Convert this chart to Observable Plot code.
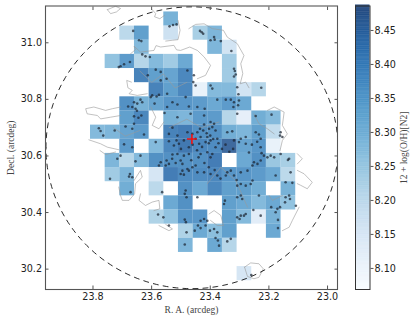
<!DOCTYPE html>
<html><head><meta charset="utf-8">
<script src="https://cdn.jsdelivr.net/npm/d3@7"></script>
<script src="https://cdn.jsdelivr.net/npm/@observablehq/plot@0.6"></script>
<style>
html,body{margin:0;padding:0;background:#fff;width:415px;height:322px;overflow:hidden}
#wrap{display:flex;width:415px;height:322px}
svg{display:block;background:transparent}
</style></head><body><div id="wrap"></div>
<script>
const raDomain=[23.962,22.966], decDomain=[30.128,31.13];
const colorDomain=[8.069,8.486];
const xTicks=[23.8,23.6,23.4,23.2,23.0], yTicks=[30.2,30.4,30.6,30.8,31.0];
const colorTicks=[8.10,8.15,8.20,8.25,8.30,8.35,8.40,8.45];
const gridRA0=23.8085, gridDec0=31.109, gridStep=0.05;
const center=[23.4625,30.66], fieldCenter=[23.4625,30.629], fieldRadius=0.498;
const metallicity=[
[0,0,0,0,0,8.31,0,0,0,0,0,0,0,0],
[0,0,8.21,8.35,0,8.18,0,8.24,8.30,0,0,0,0,0],
[0,0,0,8.29,0,0,0,0,8.30,8.17,0,0,0,0],
[0,8.27,8.36,8.22,8.29,8.25,8.33,0,0,8.25,0,0,0,0],
[0,0,0,8.41,8.35,8.34,8.40,0,0,8.25,0,0,0,0],
[0,0,0,0,8.41,8.35,8.40,8.11,8.29,8.29,8.17,8.22,0,0],
[0,0,8.38,8.31,8.34,8.37,8.37,8.36,8.33,8.36,8.33,0,0,0],
[0,0,8.35,8.40,0,8.31,8.30,8.36,8.36,8.22,8.12,8.32,8.29,0],
[8.29,8.30,8.34,8.36,0,8.41,8.42,8.38,8.38,8.32,8.30,8.35,8.20,0],
[0,0,8.36,0,8.29,8.40,8.43,8.40,8.39,8.46,8.34,8.37,8.11,0],
[0,8.30,8.22,8.29,8.38,8.38,8.38,8.38,8.42,0,8.33,8.38,8.26,8.24],
[0,8.25,8.30,0,8.16,8.42,8.39,8.39,8.40,8.37,8.37,8.36,8.33,8.21],
[0,0,8.32,0,8.21,0,8.38,8.33,8.40,8.35,8.35,8.32,0,8.31],
[0,0,0,0,0,8.33,8.38,0,0,8.35,8.33,8.29,8.33,8.27],
[0,0,0,0,8.23,8.27,8.37,8.37,0,8.35,8.29,8.13,8.31,0],
[0,0,0,0,0,0,8.23,8.33,8.28,8.35,0,0,8.33,0],
[0,0,0,0,0,0,8.30,0,8.33,8.22,0,0,0,0],
[0,0,0,0,0,0,0,0,0,0,0,0,0,0],
[0,0,0,0,0,0,0,0,0,0,8.16,0,0,0]
];
const regions=[
[23.539,31.058],[23.527,31.063],[23.515,31.065],[23.663,31.042],[23.643,31.009],[23.635,31.006],[23.435,31.042],[23.429,31.037],[23.424,31.032],[23.387,31.020],[23.399,31.009],[23.385,31.011],[23.364,31.006],[23.328,30.971],[23.632,30.959],[23.621,30.952],[23.606,30.950],[23.674,30.932],[23.694,30.924],[23.706,30.917],[23.712,30.914],[23.586,30.905],[23.569,30.897],[23.549,30.873],[23.613,30.885],[23.569,30.867],[23.478,30.902],[23.456,30.885],[23.458,30.861],[23.319,30.908],[23.316,30.900],[23.313,30.888],[23.319,30.881],[23.308,30.843],[23.304,30.818],[23.302,30.796],[23.399,30.849],[23.393,30.838],[23.450,30.849],[23.226,30.841],[23.598,30.814],[23.583,30.810],[23.603,30.808],[23.575,30.816],[23.547,30.820],[23.484,30.808],[23.660,30.790],[23.649,30.785],[23.632,30.790],[23.638,30.799],[23.666,30.773],[23.655,30.767],[23.590,30.785],[23.547,30.773],[23.529,30.790],[23.512,30.782],[23.473,30.775],[23.444,30.773],[23.419,30.767],[23.376,30.799],[23.347,30.799],[23.330,30.799],[23.319,30.790],[23.321,30.773],[23.305,30.779],[23.556,30.752],[23.660,30.740],[23.635,30.743],[23.689,30.704],[23.660,30.714],[23.512,30.737],[23.467,30.749],[23.421,30.743],[23.399,30.720],[23.387,30.714],[23.245,30.741],[23.191,30.746],[23.308,30.749],[23.780,30.698],[23.774,30.688],[23.765,30.672],[23.726,30.690],[23.666,30.696],[23.626,30.676],[23.529,30.700],[23.541,30.678],[23.512,30.672],[23.478,30.684],[23.461,30.678],[23.435,30.696],[23.421,30.711],[23.444,30.684],[23.404,30.696],[23.393,30.702],[23.382,30.690],[23.410,30.667],[23.433,30.667],[23.450,30.661],[23.376,30.661],[23.342,30.684],[23.325,30.687],[23.296,30.661],[23.279,30.667],[23.245,30.684],[23.234,30.676],[23.228,30.661],[23.160,30.684],[23.162,30.672],[23.154,30.667],[23.694,30.641],[23.666,30.631],[23.541,30.652],[23.524,30.637],[23.507,30.643],[23.490,30.655],[23.473,30.631],[23.438,30.643],[23.416,30.649],[23.399,30.655],[23.382,30.631],[23.319,30.655],[23.302,30.649],[23.279,30.643],[23.228,30.631],[23.586,30.649],
[23.706,30.601],[23.638,30.601],[23.717,30.590],[23.655,30.581],[23.569,30.578],[23.549,30.584],[23.541,30.572],[23.575,30.566],[23.552,30.566],[23.529,30.605],[23.512,30.607],[23.490,30.601],[23.501,30.584],[23.495,30.572],[23.473,30.607],[23.450,30.566],[23.461,30.560],[23.478,30.554],[23.495,30.548],[23.433,30.607],[23.410,30.613],[23.393,30.607],[23.399,30.595],[23.251,30.578],[23.239,30.572],[23.256,30.566],[23.228,30.584],[23.217,30.601],[23.194,30.601],[23.182,30.595],[23.160,30.607],[23.131,30.590],[23.135,30.586],[23.674,30.536],[23.677,30.527],[23.666,30.525],[23.742,30.519],[23.501,30.536],[23.490,30.534],[23.473,30.548],[23.444,30.542],[23.421,30.542],[23.399,30.536],[23.376,30.531],[23.342,30.542],[23.330,30.548],[23.347,30.531],[23.296,30.542],[23.319,30.531],[23.273,30.548],[23.256,30.513],[23.296,30.501],[23.308,30.495],[23.279,30.495],[23.262,30.501],[23.177,30.531],[23.126,30.542],[23.143,30.507],[23.120,30.505],[23.672,30.472],[23.564,30.472],[23.484,30.478],[23.487,30.466],[23.481,30.454],[23.444,30.454],[23.296,30.460],[23.308,30.454],[23.291,30.448],[23.350,30.442],[23.353,30.430],[23.234,30.460],[23.131,30.460],[23.143,30.454],[23.128,30.448],[23.145,30.436],[23.108,30.424],[23.192,30.419],[23.171,30.413],[23.162,30.419],[23.177,30.401],[23.253,30.409],[23.578,30.393],[23.560,30.383],[23.487,30.375],[23.483,30.366],[23.433,30.371],[23.421,30.377],[23.410,30.371],[23.442,30.354],[23.433,30.345],[23.416,30.354],[23.308,30.383],[23.296,30.389],[23.285,30.389],[23.279,30.395],[23.300,30.377],[23.228,30.389],[23.169,30.374],[23.541,30.354],[23.481,30.330],[23.453,30.336],[23.401,30.336],[23.387,30.342],[23.376,30.330],[23.169,30.345],[23.382,30.310],[23.374,30.301],[23.370,30.283],[23.330,30.307],[23.342,30.298],[23.487,30.287],[23.260,30.179],
[23.424,30.690],[23.412,30.680],[23.400,30.672],[23.390,30.660],[23.405,30.645],[23.428,30.632],[23.445,30.620],[23.460,30.640],[23.500,30.625],[23.515,30.655],[23.372,30.645],[23.360,30.625],[23.348,30.640],[23.335,30.615],[23.322,30.625],[23.268,30.612],[23.258,30.640],[23.240,30.650],[23.225,30.610],[23.205,30.595],[23.530,30.590],[23.518,30.575],[23.465,30.585],[23.440,30.595],[23.420,30.575],[23.405,30.560],[23.385,30.550],[23.365,30.520],[23.310,30.515],[23.645,30.735],[23.650,30.760],[23.680,30.775]
];
const contours=[
[[23.751,31.117],[23.740,31.103],[23.720,31.109],[23.706,31.121],[23.723,31.129],[23.751,31.117]],
[[23.598,31.117],[23.586,31.103],[23.590,31.092],[23.572,31.085],[23.556,31.097]],
[[23.510,31.079],[23.503,31.044],[23.510,31.011],[23.529,31.009],[23.552,31.006]],
[[23.473,31.050],[23.450,31.065],[23.421,31.067],[23.393,31.050],[23.355,31.044],[23.342,31.020],[23.308,30.997],[23.285,30.955],[23.296,30.926],[23.289,30.891],[23.298,30.855],[23.279,30.861],[23.268,30.841]],
[[23.672,30.961],[23.655,30.976],[23.660,30.988],[23.638,30.967],[23.592,30.973],[23.585,30.990],[23.569,30.985],[23.524,30.991],[23.515,30.975],[23.501,30.973],[23.470,30.985],[23.444,30.973],[23.421,30.950],[23.399,30.920],[23.416,30.885],[23.444,30.873]],
[[23.669,30.861],[23.685,30.867],[23.681,30.841],[23.666,30.832],[23.677,30.820],[23.649,30.814],[23.615,30.820]],
[[23.706,30.773],[23.734,30.767],[23.757,30.761],[23.797,30.773],[23.825,30.767],[23.820,30.749],[23.785,30.743],[23.774,30.731],[23.740,30.737],[23.706,30.743]],
[[23.814,30.657],[23.774,30.643],[23.751,30.631],[23.712,30.622]],
[[23.776,30.619],[23.757,30.605],[23.723,30.614]],
[[23.660,30.513],[23.638,30.549],[23.632,30.525],[23.655,30.502],[23.658,30.466],[23.677,30.443],[23.700,30.443],[23.706,30.460],[23.712,30.490]],
[[23.638,30.466],[23.643,30.443],[23.621,30.425],[23.598,30.437],[23.575,30.443],[23.572,30.413],[23.592,30.407]],
[[23.575,30.354],[23.541,30.336],[23.529,30.342],[23.552,30.358]],
[[23.404,30.395],[23.387,30.407],[23.364,30.390],[23.355,30.354],[23.376,30.354],[23.399,30.372]],
[[23.103,30.549],[23.080,30.537],[23.052,30.507],[23.069,30.484],[23.091,30.496],[23.103,30.502]],
[[23.097,30.419],[23.120,30.372],[23.131,30.348],[23.154,30.336]],
[[23.199,30.460],[23.188,30.443],[23.154,30.460]],
[[23.205,30.761],[23.182,30.773],[23.148,30.755],[23.154,30.708],[23.137,30.678],[23.154,30.655],[23.162,30.619]],
[[23.103,30.608],[23.086,30.590],[23.103,30.572]],
[[23.283,30.207],[23.262,30.222],[23.234,30.219],[23.219,30.201],[23.234,30.171],[23.251,30.166],[23.273,30.174],[23.283,30.207]],
[[23.603,30.773],[23.586,30.737],[23.598,30.708],[23.575,30.696],[23.558,30.720]],
[[23.251,30.749],[23.234,30.714],[23.205,30.696],[23.182,30.678]],
[[23.410,30.502],[23.364,30.560],[23.313,30.513],[23.273,30.419]],
[[23.640,30.900],[23.600,30.860],[23.560,30.890],[23.520,30.840],[23.480,30.860]],
[[23.540,30.700],[23.480,30.730],[23.430,30.700],[23.370,30.720]],
[[23.640,30.690],[23.690,30.670],[23.730,30.700]]
];
const serif='"Liberation Serif","DejaVu Serif",serif', sans='"DejaVu Sans",sans-serif';
const cells=[];
metallicity.forEach((row,r)=>row.forEach((v,c)=>{ if(v) cells.push({ra1:gridRA0-c*gridStep,ra2:gridRA0-(c+1)*gridStep,dec1:gridDec0-r*gridStep,dec2:gridDec0-(r+1)*gridStep,v}); }));
const contourRows=contours.flatMap((line,i)=>line.map(p=>({ra:p[0],dec:p[1],id:i})));
const circle=d3.range(0,361,2).map(a=>({ra:fieldCenter[0]+fieldRadius*Math.cos(a*Math.PI/180),dec:fieldCenter[1]+fieldRadius*Math.sin(a*Math.PI/180)}));
const colorOpt={type:"linear",scheme:"Blues",domain:colorDomain};
const frameColor="#555";
const main=Plot.plot({
  width:345,height:322,marginLeft:45,marginRight:8,marginTop:5.5,marginBottom:33,
  style:{fontFamily:sans,fontSize:"9.6px",color:"#222",background:"transparent"},
  x:{domain:raDomain,label:null},y:{domain:decDomain,label:null},color:colorOpt,
  marks:[
    Plot.rect(cells,{x1:"ra1",x2:"ra2",y1:"dec1",y2:"dec2",fill:"v",fillOpacity:0.78}),
    Plot.line(contourRows,{x:"ra",y:"dec",z:"id",stroke:"#999",strokeWidth:1,strokeOpacity:0.6,clip:true}),
    Plot.dot(regions,{x:d=>d[0],y:d=>d[1],r:1.3,fill:"#1c2430",fillOpacity:0.72}),
    Plot.dot([center],{x:d=>d[0],y:d=>d[1],symbol:"plus",r:3.3,stroke:"#ee1111",strokeWidth:1.6}),
    Plot.line(circle,{x:"ra",y:"dec",stroke:"#111",strokeWidth:0.9,strokeDasharray:"5,5",clip:true}),
    Plot.frame({stroke:frameColor,strokeWidth:1.1}),
    Plot.axisX(xTicks,{anchor:"bottom",tickSize:-3.5,tickPadding:7,tickFormat:d=>d.toFixed(1),label:null,stroke:frameColor}),
    Plot.axisX(xTicks,{anchor:"top",tickSize:-3.5,tickFormat:()=>"",label:null,stroke:frameColor}),
    Plot.axisY(yTicks,{anchor:"left",tickSize:-3.5,tickPadding:7,tickFormat:d=>d.toFixed(1),label:null,stroke:frameColor}),
    Plot.axisY(yTicks,{anchor:"right",tickSize:-3.5,tickFormat:()=>"",label:null,stroke:frameColor}),
    Plot.text(["R. A. (arcdeg)"],{frameAnchor:"bottom",dy:23,fontFamily:serif,fontSize:9.5,fill:"#444"}),
    Plot.text(["Decl. (arcdeg)"],{frameAnchor:"left",rotate:-90,dx:-35,textAnchor:"middle",fontFamily:serif,fontSize:9.5,fill:"#444"})
  ]
});
const ramp=d3.range(8.069,8.486,0.002);
const bar=Plot.plot({
  width:70,height:322,marginLeft:10,marginRight:45.5,marginTop:5.5,marginBottom:33,
  style:{fontFamily:sans,fontSize:"9.6px",color:"#222",background:"transparent"},
  x:{axis:null,domain:[0,1]},y:{domain:colorDomain,label:null},color:colorOpt,
  marks:[
    Plot.rect(ramp,{x1:0,x2:1,y1:d=>d,y2:d=>d+0.0025,fill:d=>d,fillOpacity:0.85}),
    Plot.frame({stroke:"#333",strokeWidth:1}),
    Plot.axisY(colorTicks,{anchor:"right",tickSize:3,tickPadding:1.5,tickFormat:d=>d.toFixed(2),label:null,stroke:"#555"}),
    Plot.text(["12 + log(O/H)[N2]"],{frameAnchor:"right",rotate:-90,dx:34,textAnchor:"middle",fontFamily:serif,fontSize:9.5,fill:"#444"})
  ]
});
document.getElementById("wrap").append(main,bar);
</script></body></html>
